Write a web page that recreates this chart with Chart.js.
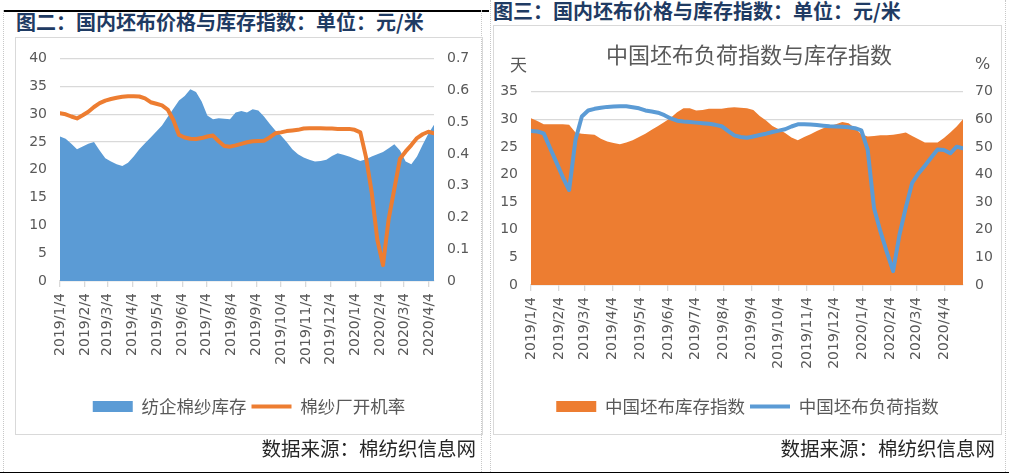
<!DOCTYPE html>
<html><head><meta charset="utf-8">
<script src="https://cdn.jsdelivr.net/npm/chart.js@4.4.1/dist/chart.umd.min.js"></script>
<style>
html,body{margin:0;padding:0;background:#fff;}
body{width:1009px;height:475px;position:relative;overflow:hidden;font-family:"Noto Sans CJK SC",sans-serif;}
.a{position:absolute;}
.hl{position:absolute;background:#000;height:1.5px;}
.vd{position:absolute;width:0;border-left:1px dotted #c8c8c8;}
.frame{position:absolute;box-sizing:border-box;border:1.5px solid #d9d9d9;}
.ftitle{position:absolute;font-weight:700;font-size:20px;line-height:22px;color:#1f3b63;white-space:nowrap;}
.src{position:absolute;font-size:19.5px;line-height:22px;color:#262626;white-space:nowrap;}
.lbl{position:absolute;color:#595959;white-space:nowrap;}
</style></head><body>

<div class="hl" style="left:3px;top:10px;width:486px;"></div>
<div class="hl" style="left:0;top:471.5px;width:1009px;"></div>
<div class="vd" style="left:3px;top:10px;height:462px;"></div>
<div class="vd" style="left:481px;top:10px;height:462px;"></div>
<div class="vd" style="left:490px;top:0;height:472px;"></div>
<div class="vd" style="left:1005px;top:0;height:472px;"></div>

<div class="ftitle" style="left:16px;top:11px;">图二：国内坯布价格与库存指数：单位：元/米</div>
<div class="ftitle" style="left:493px;top:0px;">图三：国内坯布价格与库存指数：单位：元/米</div>

<div class="frame" style="left:15px;top:37px;width:468px;height:398px;"></div>
<canvas id="c1" class="a" style="left:15px;top:37px;" width="468" height="398"></canvas>

<div class="frame" style="left:493px;top:25px;width:509px;height:410px;"></div>
<canvas id="c2" class="a" style="left:493px;top:25px;" width="509" height="410"></canvas>

<div class="lbl" style="left:606px;top:41px;width:284px;text-align:center;font-size:22px;line-height:24px;">中国坯布负荷指数与库存指数</div>
<div class="lbl" style="left:510px;top:55px;font-size:17px;line-height:18px;">天</div>
<div class="lbl" style="left:975px;top:55px;font-size:16px;line-height:18px;font-family:'DejaVu Sans';">%</div>

<div class="src" style="right:533px;top:437px;">数据来源：棉纺织信息网</div>
<div class="src" style="right:14px;top:437px;">数据来源：棉纺织信息网</div>

<script>
// ---- data ----
const firstWeek = '2019/1/4';           // weekly observations, one per Friday
const tickLabels = ['2019/1/4','2019/2/4','2019/3/4','2019/4/4','2019/5/4','2019/6/4','2019/7/4','2019/8/4',
                    '2019/9/4','2019/10/4','2019/11/4','2019/12/4','2020/1/4','2020/2/4','2020/3/4','2020/4/4'];

// 图二: 纺企棉纱库存 (left axis) and 棉纱厂开机率 (right axis)
const yarnStock = [26.0,25.6,24.7,23.7,24.2,24.7,25.0,23.5,22.1,21.5,
                   21.0,20.7,21.3,22.4,23.7,24.8,25.8,26.9,28.0,29.5,
                   31.0,32.5,33.3,34.5,34.0,32.3,29.8,29.1,29.3,29.2,
                   29.1,30.3,30.6,30.3,30.9,30.7,29.6,28.3,27.1,26.2,
                   25.0,23.7,22.8,22.2,21.8,21.5,21.6,21.8,22.5,23.0,
                   22.7,22.4,22.0,21.6,21.9,22.4,22.8,23.2,23.9,24.6,
                   23.5,21.5,21.0,22.4,24.5,26.5,28.1];
const yarnRate  = [0.528,0.525,0.518,0.512,0.522,0.533,0.548,0.560,0.568,0.573,
                   0.577,0.580,0.582,0.582,0.581,0.575,0.563,0.558,0.553,0.540,
                   0.507,0.460,0.452,0.448,0.447,0.450,0.455,0.458,0.440,0.425,
                   0.423,0.427,0.432,0.437,0.440,0.441,0.442,0.452,0.465,0.468,
                   0.472,0.474,0.476,0.480,0.481,0.481,0.481,0.480,0.480,0.479,
                   0.479,0.479,0.476,0.468,0.390,0.280,0.130,0.050,0.195,0.290,
                   0.385,0.408,0.428,0.450,0.462,0.470,0.465];

// 图三: 中国坯布库存指数 (left axis, 天) and 中国坯布负荷指数 (right axis, %)
const clothStock = [30.2,29.7,29.1,29.1,29.1,29.1,29.0,27.6,27.4,27.3,
                    27.2,26.5,26.0,25.7,25.5,25.8,26.2,26.8,27.4,28.1,
                    28.8,29.5,30.3,31.3,32.0,32.0,31.6,31.7,31.9,31.9,
                    31.9,32.1,32.2,32.1,32.0,31.7,
                    30.6,29.8,28.8,28.2,27.5,26.7,26.2,26.8,27.3,27.9,
                    28.4,28.8,29.1,29.5,29.3,28.4,27.3,26.9,27.0,27.1,
                    27.1,27.2,27.4,27.6,27.0,26.4,25.8,25.8,25.8,26.6,27.6,28.7,30.0];
const clothLoad  = [55.8,55.6,54.9,49.6,44.4,39.1,34.4,52.5,61.0,63.2,
                    63.8,64.2,64.5,64.6,64.7,64.7,64.4,64.0,63.2,62.8,
                    62.4,61.5,60.3,59.5,59.2,59.0,58.8,58.6,58.4,58.0,
                    57.5,55.8,54.2,53.6,53.3,53.8,54.3,54.8,55.4,55.9,
                    56.4,57.4,58.2,58.2,58.1,57.9,57.7,57.5,57.4,57.3,
                    57.1,56.8,56.0,48.9,27.8,19.4,12.0,5.0,18.2,28.1,
                    37.0,40.4,43.2,46.2,49.1,48.9,47.7,50.1,49.5];

// ---- helpers ----
function dayOf(s){ const p = s.split('/').map(Number); return Date.UTC(p[0], p[1]-1, p[2]) / 86400000; }
const day0 = dayOf(firstWeek);
const tickDays = tickLabels.map(s => dayOf(s) - day0);
const weekly = arr => arr.map((v, i) => ({x: i * 7, y: v}));

Chart.defaults.font.family = "'DejaVu Sans', sans-serif";
Chart.defaults.color = '#595959';

const GRID = '#d9d9d9';
const CJK = "'Noto Sans CJK SC', sans-serif";

function makeChart(id, opt) {
  return new Chart(document.getElementById(id), {
    type: 'line',
    data: { datasets: [
      { label: opt.areaLabel, data: weekly(opt.area), yAxisID: 'y', fill: 'origin',
        backgroundColor: opt.areaColor, borderColor: opt.areaColor, borderWidth: 0,
        pointRadius: 0, tension: 0, order: 2, pointStyle: 'rect' },
      { label: opt.lineLabel, data: weekly(opt.line), yAxisID: 'y1', fill: false,
        borderColor: opt.lineColor, backgroundColor: opt.lineColor, borderWidth: 4,
        borderJoinStyle: 'round', borderCapStyle: 'round',
        pointRadius: 0, tension: 0, order: 1, pointStyle: 'line' }
    ]},
    options: {
      animation: false, responsive: false, events: [], devicePixelRatio: 1,
      layout: { padding: { top: opt.top, bottom: 9.75, left: 0, right: 0 } },
      plugins: {
        tooltip: { enabled: false },
        legend: { position: 'bottom',
          labels: { usePointStyle: true, pointStyleWidth: 40, boxHeight: 11, padding: 5,
                    color: '#595959', font: { size: 17.5, family: CJK },
                    sort: (a, b) => a.datasetIndex - b.datasetIndex } }
      },
      scales: {
        x: { type: 'linear', min: 0, max: opt.xMax,
             afterBuildTicks: s => { s.ticks = tickDays.map(v => ({ value: v })); },
             afterFit: s => { s.height = opt.xHeight; },
             ticks: { autoSkip: false, minRotation: 90, maxRotation: 90, padding: 6,
                      color: '#595959', font: { size: 14 },
                      callback: (v, i) => tickLabels[i] },
             grid: { drawOnChartArea: false, tickLength: 6, color: GRID, lineWidth: 1.3 },
             border: { color: GRID, width: 1.3 } },
        y: { position: 'left', min: 0, max: opt.yMax,
             afterFit: s => { s.width = opt.leftW; },
             ticks: { stepSize: 5, padding: 13, color: '#595959', font: { size: 14 } },
             grid: { color: GRID, lineWidth: 1.3, drawTicks: false },
             border: { display: false } },
        y1: { position: 'right', min: 0, max: opt.y1Max,
             afterFit: s => { s.width = opt.rightW; },
             ticks: { stepSize: opt.y1Step, padding: opt.rightPad, color: '#595959', font: { size: 14 },
                      callback: opt.y1Fmt },
             grid: { display: false, drawTicks: false },
             border: { display: false } }
      }
    }
  });
}

makeChart('c1', {
  areaLabel: '纺企棉纱库存', area: yarnStock, areaColor: '#5B9BD5',
  lineLabel: '棉纱厂开机率', line: yarnRate, lineColor: '#ED7D31',
  top: 21.7, xMax: 462, xHeight: 111.75, yMax: 40, y1Max: 0.7, y1Step: 0.1,
  leftW: 45, rightW: 49, rightPad: 13,
  y1Fmt: v => (Math.abs(v) < 1e-9 ? '0' : v.toFixed(1))
});

makeChart('c2', {
  areaLabel: '中国坯布库存指数', area: clothStock, areaColor: '#ED7D31',
  lineLabel: '中国坯布负荷指数', line: clothLoad, lineColor: '#5B9BD5',
  top: 66.7, xMax: 476, xHeight: 107.75, yMax: 35, y1Max: 70, y1Step: 10,
  leftW: 38, rightW: 39, rightPad: 12,
  y1Fmt: v => String(Math.round(v))
});
</script>
</body></html>
